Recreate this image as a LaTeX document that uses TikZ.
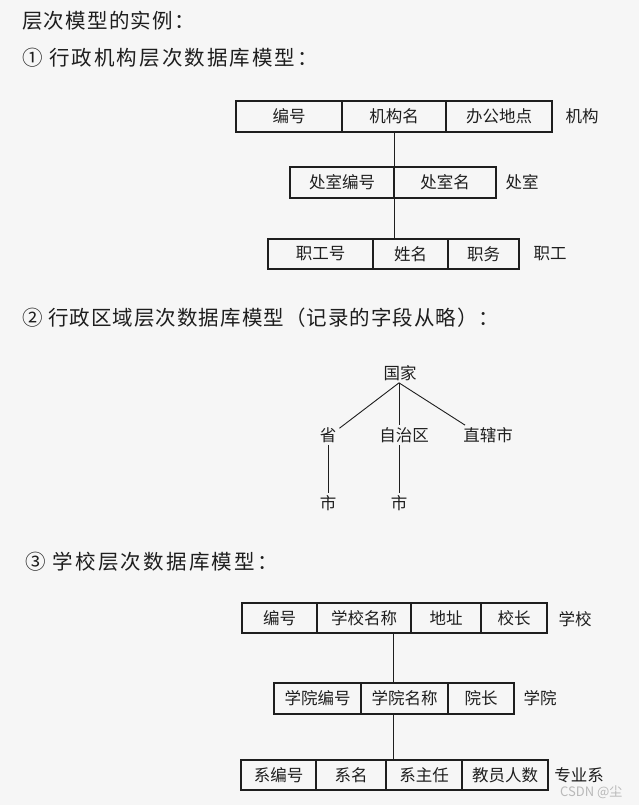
\documentclass[tikz,border=0pt]{standalone}
\usepackage{fontspec}
\setmainfont{Noto Sans CJK SC}
\definecolor{bg}{HTML}{F6F6F6}
\definecolor{ink}{HTML}{1E1E1E}
\begin{document}
\begin{tikzpicture}[x=1pt,y=-1pt,
  every node/.style={text=ink},
  cell/.style={draw=ink,line width=1.5pt,inner sep=0pt,minimum height=30pt,font=\fontsize{16.5}{18}\selectfont},
  side/.style={font=\fontsize{16.5}{18}\selectfont},
  head/.style={anchor=west,inner sep=0pt,font=\fontsize{20.5}{24}\selectfont},
  tn/.style={inner sep=2pt,font=\fontsize{16.5}{18}\selectfont},
  link/.style={draw=ink,line width=0.9pt}]
\fill[bg] (0,0) rectangle (639,805);
\useasboundingbox (0,0) rectangle (639,805);

% headings
\node[head] (h0) at (22,21) {\addfontfeature{LetterSpace=6}层次模型的实例：};
\node[head] (h1) at (22,58) {\addfontfeature{LetterSpace=10}① 行政机构层次数据库模型：};
\node[head] (h2) at (22,318) {\addfontfeature{LetterSpace=5}② 行政区域层次数据库模型（记录的字段从略）：};
\node[head] (h3) at (25,562) {\addfontfeature{LetterSpace=11}③ 学校层次数据库模型：};

% model 1
\node[cell,minimum width=106pt,minimum height=31pt] (a1) at (289,116.5) {编号};
\node[cell,minimum width=104pt,minimum height=31pt] (a2) at (394,116.5) {机构名};
\node[cell,minimum width=106pt,minimum height=31pt] (a3) at (499,116.5) {办公地点};
\node[side] (la) at (582,116) {机构};

\node[cell,minimum width=104pt,minimum height=31pt] (b1) at (342,182.5) {处室编号};
\node[cell,minimum width=102pt,minimum height=31pt] (b2) at (445,182.5) {处室名};
\node[side] (lb) at (522,182) {处室};

\node[cell,minimum width=105pt] (c1) at (320.5,254) {职工号};
\node[cell,minimum width=75pt] (c2) at (410.5,254) {姓名};
\node[cell,minimum width=71pt] (c3) at (483.5,254) {职务};
\node[side] (lc) at (550,254) {职工};

\draw[link] (a2.south) -- (a2.south |- b1.north);
\draw[link] (b1.south east) -- (b1.south east |- c2.north);

% model 2
\node[tn] (g) at (400,373) {国家};
\node[tn] (p1) at (328,435) {省};
\node[tn] (p2) at (404,435) {自治区};
\node[tn] (p3) at (488,435) {直辖市};
\node[tn] (s1) at (328,503) {市};
\node[tn] (s2) at (399,503) {市};
\draw[link] ([xshift=-1pt]g.south) -- ([xshift=1pt,yshift=-3pt]p1.north east);
\draw[link] ([xshift=-1pt]g.south) -- ([xshift=-1pt]g.south |- p2.north);
\draw[link] ([xshift=-1pt]g.south) -- ([xshift=4pt]p3.north west);
\draw[link] (p1.south) -- (s1.north);
\draw[link] (p2.south -| s2.north) -- (s2.north);

% model 3
\node[cell,minimum width=75pt] (d1) at (279.5,618) {编号};
\node[cell,minimum width=94pt] (d2) at (364,618) {学校名称};
\node[cell,minimum width=70pt] (d3) at (446,618) {地址};
\node[cell,minimum width=66pt] (d4) at (514,618) {校长};
\node[side] (ld) at (575,619) {学校};

\node[cell,minimum width=87pt,minimum height=31pt] (e1) at (317.5,698.5) {学院编号};
\node[cell,minimum width=87pt,minimum height=31pt] (e2) at (404.5,698.5) {学院名称};
\node[cell,minimum width=66pt,minimum height=31pt] (e3) at (481,698.5) {院长};
\node[side] (le) at (540,698) {学院};

\node[cell,minimum width=75pt] (f1) at (278.5,775) {系编号};
\node[cell,minimum width=70pt] (f2) at (351,775) {系名};
\node[cell,minimum width=76pt] (f3) at (424,775) {系主任};
\node[cell,minimum width=86pt] (f4) at (505,775) {教员人数};
\node[side] (lf) at (579,775) {专业系};

\coordinate (j) at (393,0);
\draw[link] (j |- d2.south) -- (j |- e2.north);
\draw[link] (j |- e2.south) -- (j |- f3.north);

% watermark
\node[anchor=west,inner sep=0pt,text=gray!55,font=\fontsize{13}{14}\selectfont] (wm) at (560,792) {CSDN @尘};
\end{tikzpicture}
\end{document}
